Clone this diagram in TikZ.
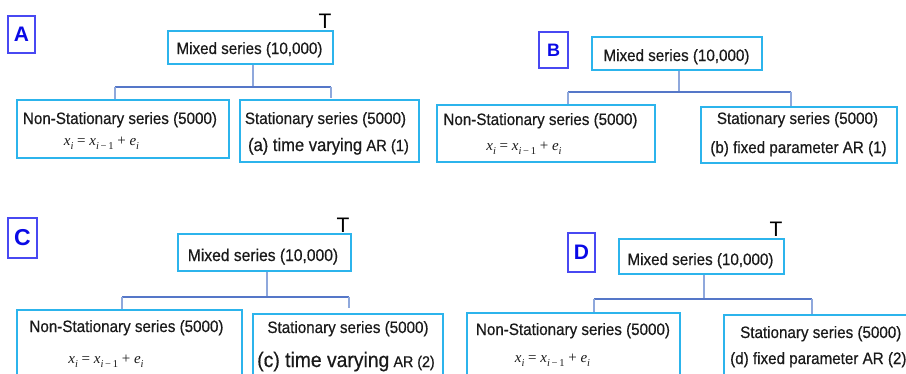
\documentclass[tikz,border=0pt]{standalone}
\usepackage{fontspec}
\setmainfont{Liberation Sans}
\newfontfamily\condsans[FakeStretch=0.92, FakeBold=0.5]{Liberation Sans}
\newfontfamily\eqserif{Liberation Serif}
\definecolor{boxcyan}{HTML}{2CB4EC}
\definecolor{letterblue}{HTML}{0A0AE6}
\definecolor{letterframe}{HTML}{4848F2}
\definecolor{stemblue}{HTML}{8FA8DC}
\definecolor{barblue}{HTML}{5577C8}
\definecolor{ink}{HTML}{1A1A1A}
% lowered index for the random-walk formula
\newcommand{\lowidx}[1]{\raisebox{-0.3em}{\fontsize{10.5}{10.5}\selectfont #1}}
\newcommand{\randomwalk}{{\eqserif\fontsize{15}{17}\selectfont
  \itshape x\lowidx{i}\upshape\ = \itshape x\lowidx{i\upshape\,−\,1}\upshape\ + \itshape e\lowidx{i}}}
\tikzset{
  panelbox/.style={draw=boxcyan, line width=1.4pt, fill=white, inner sep=0pt},
  letterbox/.style={draw=letterframe, line width=1.2pt, inner sep=0pt,
    text=letterblue, font=\bfseries\fontsize{21}{21}\selectfont},
  headtext/.style={font=\condsans\fontsize{16.5}{18}\selectfont, text=ink, inner sep=0pt, anchor=base},
  armodel/.style={font=\condsans\fontsize{16.5}{18}\selectfont, text=ink, inner sep=0pt, anchor=base},
  eqtext/.style={text=ink, inner sep=0pt, anchor=base},
  tmark/.style={font=\fontsize{21}{21}\selectfont, text=black, inner sep=0pt, anchor=base},
  stem/.style={draw=stemblue, line width=1.1pt},
  bar/.style={draw=barblue, line width=1.1pt},
  drop/.style={draw=stemblue, line width=1.1pt},
}
\begin{document}
\begin{tikzpicture}[x=1pt, y=-1pt]
\useasboundingbox (0,0) rectangle (906,373);
\clip (0,0) rectangle (906,373);

% ---------------- Panel A ----------------
\node[letterbox, minimum width=27pt, minimum height=37pt] (letA) at (21.5,34.5) {A};
\node[tmark] (tA) at (325,28) {T};
\node[panelbox, minimum width=165pt, minimum height=33pt] (mixA) at (250.5,47.5) {};
\node[panelbox, minimum width=212pt, minimum height=58pt] (nsA) at (123,129) {};
\node[panelbox, minimum width=179pt, minimum height=62pt] (stA) at (329.5,131) {};
\node[headtext] (mixAt) at (249.5,54) {Mixed series (10,000)};
\node[headtext] (nsAt) at (120,124) {Non-Stationary series (5000)};
\node[eqtext] (eqA) at (101.5,145) {\randomwalk};
\node[headtext] (stAt) at (325.5,124) {Stationary series (5000)};
\node[armodel] (arA) at (328.5,151)
  {{\fontsize{18}{20}\selectfont (a) time varying} {\fontsize{16}{18}\selectfont AR (1)}};
\coordinate (jA) at (253,87);
\coordinate (lA) at (115,87);
\coordinate (rA) at (331,87);
\draw[stem] (jA |- mixA.south) -- (jA);
\draw[bar] (lA) -- (rA);
\draw[drop] (lA) -- (lA |- nsA.north);
\draw[drop] (rA) -- ++(0,11);

% ---------------- Panel B ----------------
\node[letterbox, minimum width=29pt, minimum height=36pt,
      font=\bfseries\fontsize{18}{18}\selectfont] (letB) at (553.5,50) {B};
\node[panelbox, minimum width=170pt, minimum height=33pt] (mixB) at (677,53.5) {};
\node[panelbox, minimum width=218pt, minimum height=57pt] (nsB) at (546,133.5) {};
\node[panelbox, minimum width=196pt, minimum height=56pt] (stB) at (799,135) {};
\node[headtext] (mixBt) at (676.5,61) {Mixed series (10,000)};
\node[headtext] (nsBt) at (540.5,125) {Non-Stationary series (5000)};
\node[eqtext] (eqB) at (524,150) {\randomwalk};
\node[headtext] (stBt) at (797.5,124) {Stationary series (5000)};
\node[armodel] (arB) at (798.5,153) {(b) fixed parameter AR (1)};
\coordinate (jB) at (679,92);
\coordinate (lB) at (568,92);
\coordinate (rB) at (791,92);
\draw[stem] (jB |- mixB.south) -- (jB);
\draw[bar] (lB) -- (rB);
\draw[drop] (lB) -- (lB |- nsB.north);
\draw[drop] (rB) -- (rB |- stB.north);

% ---------------- Panel C ----------------
\node[letterbox, minimum width=29pt, minimum height=40pt,
      font=\bfseries\fontsize{23}{23}\selectfont] (letC) at (22.5,238) {C};
\node[tmark] (tC) at (343,232) {T};
\node[panelbox, minimum width=173pt, minimum height=37pt] (mixC) at (264.5,252.5) {};
\node[panelbox, minimum width=225pt, minimum height=90pt] (nsC) at (129.5,355) {};
\node[panelbox, minimum width=190pt, minimum height=86pt] (stC) at (348,357) {};
\node[headtext, font=\condsans\fontsize{17}{19}\selectfont] (mixCt) at (263,261) {Mixed series (10,000)};
\node[headtext] (nsCt) at (126.5,332) {Non-Stationary series (5000)};
\node[eqtext] (eqC) at (106,363) {\randomwalk};
\node[headtext] (stCt) at (348,333) {Stationary series (5000)};
\node[armodel] (arC) at (346,367)
  {{\fontsize{21}{23}\selectfont (c) time varying} {\fontsize{15.5}{18}\selectfont AR (2)}};
\coordinate (jC) at (267,297);
\coordinate (lC) at (122,297);
\coordinate (rC) at (349,297);
\draw[stem] (jC |- mixC.south) -- (jC);
\draw[bar] (lC) -- (rC);
\draw[drop] (lC) -- (lC |- nsC.north);
\draw[drop] (rC) -- ++(0,11);

% ---------------- Panel D ----------------
\node[letterbox, minimum width=27pt, minimum height=39pt] (letD) at (581.5,252.5) {D};
\node[tmark] (tD) at (776,236) {T};
\node[panelbox, minimum width=165pt, minimum height=35pt] (mixD) at (701.5,256.5) {};
\node[panelbox, minimum width=213pt, minimum height=90pt] (nsD) at (573.5,358) {};
\node[panelbox, minimum width=210pt, minimum height=88pt] (stD) at (829,359) {};
\node[headtext] (mixDt) at (700.5,265) {Mixed series (10,000)};
\node[headtext] (nsDt) at (573,335) {Non-Stationary series (5000)};
\node[eqtext] (eqD) at (552.5,362) {\randomwalk};
\node[headtext, anchor=base west] (stDt) at (740,338) {Stationary series (5000)};
\node[armodel, anchor=base west] (arD) at (730,364) {(d) fixed parameter AR (2)};
\coordinate (jD) at (704,299);
\coordinate (lD) at (594,299);
\coordinate (rD) at (812,299);
\draw[stem] (jD |- mixD.south) -- (jD);
\draw[bar] (lD) -- (rD);
\draw[drop] (lD) -- (lD |- nsD.north);
\draw[drop] (rD) -- (rD |- stD.north);
\end{tikzpicture}
\end{document}
